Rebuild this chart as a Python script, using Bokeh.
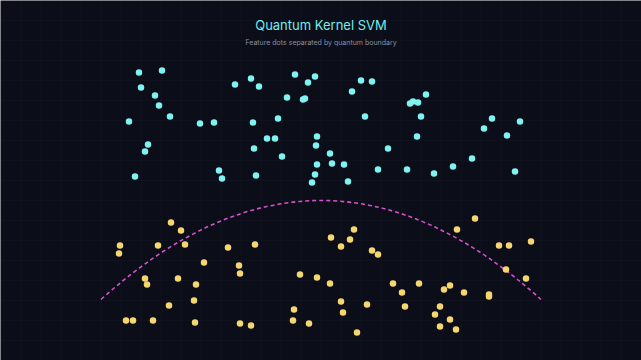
from bokeh.plotting import figure
from bokeh.models import Range1d, Label, FixedTicker, ColumnDataSource
from bokeh.embed import file_html
from bokeh.resources import INLINE

# Class A (quantum state |0>) feature points
class_a_x = [-1.82, -1.59, -1.80, -1.66, -1.62, -1.51, -1.92, -1.21, -1.07, -0.86,
             -0.70, -0.62, -0.26, -0.13, -0.06, -0.34, -0.18, -0.16, -0.68, -0.43,
             -1.73, -1.76, -1.86, -1.02, -0.99, -0.67, -0.65, -0.54, -0.46, -0.39,
             -0.04, -0.05, -0.04, -0.06, -0.09, 0.31, 0.40, 0.51, 0.44, 0.89,
             0.92, 0.97, 1.05, 1.00, 0.96, 0.67, 0.09, 0.11, 0.23, 0.27,
             0.57, 0.86, 1.13, 1.32, 1.51, 1.63, 1.71, 1.86, 1.99, 1.94]
class_a_y = [1.28, 1.30, 1.13, 1.05, 0.95, 0.84, 0.79, 0.77, 0.78, 1.16,
             1.22, 1.14, 1.26, 1.18, 1.24, 1.03, 1.01, 1.02, 0.78, 0.82,
             0.56, 0.49, 0.24, 0.30, 0.22, 0.52, 0.25, 0.62, 0.62, 0.44,
             0.64, 0.55, 0.36, 0.26, 0.18, 1.09, 1.20, 1.19, 0.84, 0.97,
             0.99, 0.98, 1.06, 0.84, 0.64, 0.52, 0.47, 0.37, 0.36, 0.19,
             0.31, 0.31, 0.27, 0.34, 0.42, 0.72, 0.82, 0.65, 0.79, 0.29]

# Class B (quantum state |1>) feature points
class_b_x = [-1.50, -1.40, -2.01, -2.02, -1.63, -1.36, -0.93, -0.66, -1.17, -0.82,
             -0.81, -1.76, -1.74, -1.43, -1.25, -1.27, -1.52, -1.95, -1.88, -1.68,
             -1.26, -0.81, -0.70, -0.21, -0.04, -0.27, -0.28, -0.12, 0.33, 0.10,
             0.29, 0.20, 0.51, 0.57, 1.54, 1.36, 1.78, 1.88, 2.10, 1.85,
             2.05, 0.09, 0.72, 0.81, 0.98, 1.23, 1.29, 1.43, 1.68, 1.68,
             0.20, 0.46, 0.22, 0.84, 1.19, 1.14, 1.29, 1.19, 1.35, 0.36]
class_b_y = [-0.22, -0.30, -0.45, -0.53, -0.45, -0.44, -0.47, -0.44, -0.62, -0.65,
             -0.73, -0.78, -0.84, -0.78, -0.84, -1.00, -1.05, -1.20, -1.20, -1.20,
             -1.22, -1.23, -1.25, -0.74, -0.77, -1.09, -1.20, -1.23, -0.29, -0.37,
             -0.39, -0.46, -0.50, -0.54, -0.18, -0.29, -0.45, -0.45, -0.41, -0.69,
             -0.78, -0.83, -0.83, -0.92, -0.83, -0.89, -0.85, -0.92, -0.94, -0.96,
             -1.01, -1.04, -1.12, -1.06, -1.06, -1.14, -1.19, -1.26, -1.29, -1.32]

# Decision boundary (quadratic curve: start, end, control)
boundary_start = (-2.20, -0.99)
boundary_end = (2.20, -0.99)
boundary_ctrl = (0.0, 0.99)

title_text = "Quantum Kernel SVM"
subtitle_text = "Feature dots separated by quantum boundary"

BG = "#0b0d19"

p = figure(width=641, height=360, output_backend="svg", toolbar_location=None,
           x_range=Range1d(-3.205, 3.205), y_range=Range1d(-1.6, 2.0),
           min_border=0, background_fill_color=BG, border_fill_color=BG)
p.outline_line_color = None
p.xaxis.visible = False
p.yaxis.visible = False

grid_x = [round(-3.2 + 0.2 * i, 2) for i in range(33)]
grid_y = [round(-1.6 + 0.2 * i, 2) for i in range(19)]
p.xgrid.ticker = FixedTicker(ticks=grid_x)
p.ygrid.ticker = FixedTicker(ticks=grid_y)
p.grid.grid_line_color = "#ffffff"
p.grid.grid_line_alpha = 0.02
p.grid.grid_line_width = 1

p.quadratic(x0=[boundary_start[0]], y0=[boundary_start[1]],
            x1=[boundary_end[0]], y1=[boundary_end[1]],
            cx=[boundary_ctrl[0]], cy=[boundary_ctrl[1]],
            line_color="#d452c8", line_width=1.6, line_dash="4 3")

src_a = ColumnDataSource(dict(x=class_a_x, y=class_a_y))
src_b = ColumnDataSource(dict(x=class_b_x, y=class_b_y))
p.scatter("x", "y", source=src_a, size=6.5, fill_color="#7ff3ef", line_color=None)
p.scatter("x", "y", source=src_b, size=6.5, fill_color="#f6d66e", line_color=None)

p.add_layout(Label(x=0.0, y=1.76, text=title_text, text_align="center",
                   text_baseline="middle", text_font="Inter", text_font_size="13px",
                   text_font_style="normal", text_color="#74ecea"))
p.add_layout(Label(x=0.0, y=1.58, text=subtitle_text, text_align="center",
                   text_baseline="middle", text_font="Inter", text_font_size="7px",
                   text_color="#8a90a3"))

open("out.html", "w").write(file_html(p, INLINE))
